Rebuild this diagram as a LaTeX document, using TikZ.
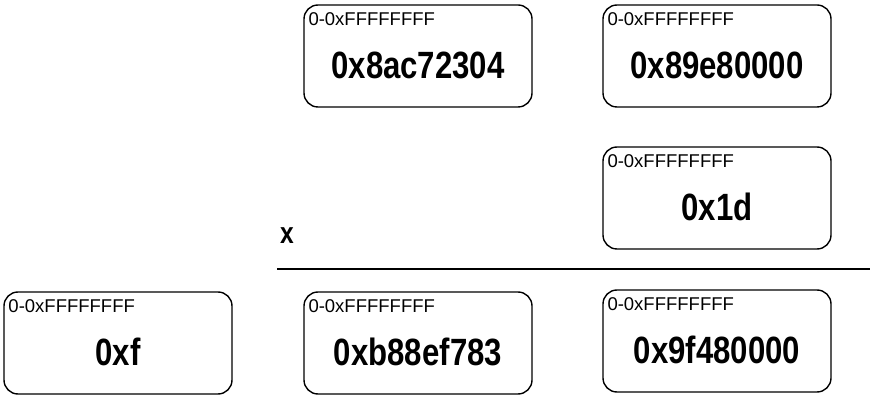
\documentclass[tikz,border=0pt]{standalone}
\usepackage{fontspec}
\setmainfont{Liberation Sans}
\newfontfamily\handfont[FakeStretch=0.82]{Liberation Sans}
\usetikzlibrary{positioning}

\tikzset{
  regbox/.style={draw, line width=1.4pt, rounded corners=14pt, minimum width=228pt, minimum height=102pt, inner sep=0pt},
  rangelbl/.style={anchor=north west, inner sep=0pt, font=\fontsize{18.5}{20}\selectfont},
  regval/.style={font=\handfont\bfseries\fontsize{38}{40}\selectfont, inner sep=0pt}
}

\begin{document}
\begin{tikzpicture}[x=1pt, y=-1pt]
  \useasboundingbox (0,0) rectangle (871,403);

  % multiplicand and multiplier
  \node (a) [regbox] at (418,56) {};
  \node (alo) [regbox] at (717,56) {};
  \node (b) [regbox] at (717,198) {};

  % result row
  \node (carry) [regbox] at (118,343) {};
  \node (rhi) [regbox] at (418,343) {};
  \node (rlo) [regbox] at (717,341) {};

  \foreach \n in {a, alo, b, carry, rhi, rlo}
    \node (\n-rng) [rangelbl] at ([xshift=5pt, yshift=-8pt]\n.north west) {0-0xFFFFFFFF};

  \node (a-val) [regval] at ([yshift=-9pt]a.center) {0x8ac72304};
  \node (alo-val) [regval] at ([yshift=-9pt]alo.center) {0x89e80000};
  \node (b-val) [regval] at ([yshift=-9pt]b.center) {0x1d};
  \node (carry-val) [regval] at ([yshift=-9pt]carry.center) {0xf};
  \node (rhi-val) [regval] at ([yshift=-9pt]rhi.center) {0xb88ef783};
  \node (rlo-val) [regval] at ([yshift=-9pt]rlo.center) {0x9f480000};

  \node (times) [regval, font=\handfont\bfseries\fontsize{30}{32}\selectfont] at (287,236) {x};

  \coordinate (rulel) at (277,269);
  \coordinate (ruler) at (870,269);
  \draw[line width=1.4pt] (rulel) -- (ruler);
\end{tikzpicture}
\end{document}
